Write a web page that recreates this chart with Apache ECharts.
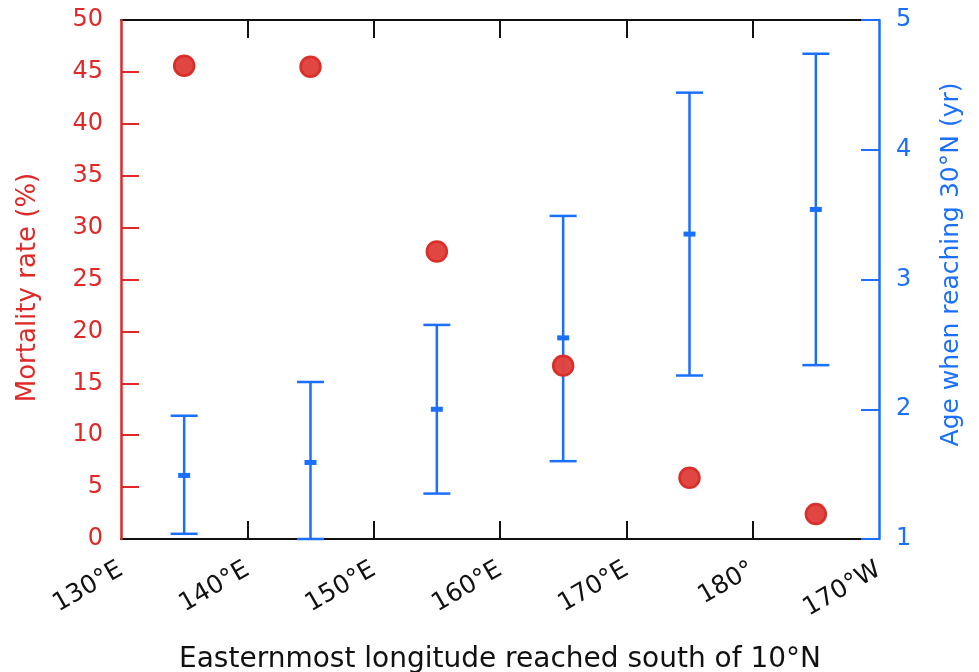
<!DOCTYPE html>
<html>
<head>
<meta charset="utf-8">
<script src="https://cdn.jsdelivr.net/npm/echarts@6/dist/echarts.min.js"></script>
<style>html,body{margin:0;padding:0;background:#fff;}#c{width:979px;height:672px;}</style>
</head>
<body>
<div id="c"></div>
<script>
// Data
var longitudes = [135, 145, 155, 165, 175, 185];
var xTickValues = [130, 140, 150, 160, 170, 180, 190];
var xTickLabels = ['130°E', '140°E', '150°E', '160°E', '170°E', '180°', '170°W'];
var mortality = [45.6, 45.5, 27.7, 16.7, 5.9, 2.4];
var ageCenter = [1.49, 1.59, 2.0, 2.55, 3.35, 3.54];
var ageLow = [1.04, 1.0, 1.35, 1.60, 2.26, 2.34];
var ageHigh = [1.95, 2.21, 2.65, 3.49, 4.44, 4.74];
var innerXTicks = [140, 150, 160, 170, 180];
var innerLeftTicks = [5, 10, 15, 20, 25, 30, 35, 40, 45];

var RED = '#e02828';
var BLUE = '#1a6fff';
var FONT = 'DejaVu Sans';

var chart = echarts.init(document.getElementById('c'), null, {renderer: 'canvas'});

function fmtX(v) {
  var i = xTickValues.indexOf(Math.round(v));
  return i >= 0 ? xTickLabels[i] : '';
}

var errData = longitudes.map(function (x, i) { return [x, ageLow[i], ageHigh[i], ageCenter[i]]; });
var dotData = longitudes.map(function (x, i) { return [x, mortality[i]]; });

var option = {
  animation: false,
  backgroundColor: '#ffffff',
  grid: {left: 121, right: 100, top: 20, bottom: 133, containLabel: false, outerBoundsMode: 'none'},
  xAxis: [{
    type: 'value', position: 'bottom', min: 130, max: 190, interval: 10, z: 1,
    name: 'Easternmost longitude reached south of 10°N',
    nameLocation: 'middle', nameGap: 107,
    nameTextStyle: {fontFamily: FONT, fontSize: 28, color: '#111'},
    axisLine: {show: true, lineStyle: {color: '#111', width: 2}},
    axisTick: {show: true, inside: true, length: 18, customValues: innerXTicks, lineStyle: {color: '#111', width: 2}},
    axisLabel: {show: true, rotate: 30, margin: 29, fontFamily: FONT, fontSize: 25, color: '#111', formatter: fmtX},
    splitLine: {show: false}
  }, {
    type: 'value', position: 'top', min: 130, max: 190, interval: 10, z: 1,
    axisLine: {show: true, lineStyle: {color: '#111', width: 2}},
    axisTick: {show: true, inside: true, length: 18, customValues: innerXTicks, lineStyle: {color: '#111', width: 2}},
    axisLabel: {show: false},
    splitLine: {show: false}
  }],
  yAxis: [{
    type: 'value', position: 'left', min: 0, max: 50, interval: 5, z: 2,
    name: 'Mortality rate (%)', nameLocation: 'middle', nameGap: 80, nameRotate: 90,
    nameTextStyle: {fontFamily: FONT, fontSize: 26, color: RED, padding: [0, 16, 0, 0]},
    axisLine: {show: true, lineStyle: {color: RED, width: 2.5}},
    axisTick: {show: true, inside: true, length: 18, customValues: innerLeftTicks, lineStyle: {color: RED, width: 2}},
    axisLabel: {margin: 18, fontFamily: FONT, fontSize: 24, color: RED},
    splitLine: {show: false}
  }, {
    type: 'value', position: 'right', min: 1, max: 5, interval: 1, z: 2,
    name: 'Age when reaching 30°N (yr)', nameLocation: 'middle', nameGap: 60, nameRotate: 90,
    nameTextStyle: {fontFamily: FONT, fontSize: 25, color: BLUE, padding: [0, 0, 0, 30]},
    axisLine: {show: true, lineStyle: {color: BLUE, width: 2.5}},
    axisTick: {show: true, inside: true, length: 18, lineStyle: {color: BLUE, width: 2}},
    axisLabel: {margin: 17, fontFamily: FONT, fontSize: 24, color: BLUE},
    splitLine: {show: false}
  }],
  series: [{
    type: 'custom',
    xAxisIndex: 0, yAxisIndex: 1,
    z: 2,
    encode: {x: 0, y: [1, 2, 3]},
    data: errData,
    clip: false,
    renderItem: function (params, api) {
      var x = api.value(0);
      var lo = api.coord([x, api.value(1)]);
      var hi = api.coord([x, api.value(2)]);
      var c = api.coord([x, api.value(3)]);
      var hw = 13.5;
      var st = {stroke: BLUE, lineWidth: 2.5, fill: null};
      return {
        type: 'group',
        children: [
          {type: 'line', shape: {x1: lo[0], y1: lo[1], x2: hi[0], y2: hi[1]}, style: st},
          {type: 'line', shape: {x1: hi[0] - hw, y1: hi[1], x2: hi[0] + hw, y2: hi[1]}, style: st},
          {type: 'line', shape: {x1: lo[0] - hw, y1: lo[1], x2: lo[0] + hw, y2: lo[1]}, style: st},
          {type: 'rect', shape: {x: c[0] - 6, y: c[1] - 2.5, width: 12, height: 5}, style: {fill: BLUE}}
        ]
      };
    }
  }, {
    type: 'scatter',
    xAxisIndex: 0, yAxisIndex: 0,
    z: 3,
    symbol: 'circle', symbolSize: 20,
    data: dotData,
    itemStyle: {color: '#e0413c', borderColor: '#d92a25', borderWidth: 2.5, opacity: 0.97}
  }]
};
chart.setOption(option);
</script>
</body>
</html>
